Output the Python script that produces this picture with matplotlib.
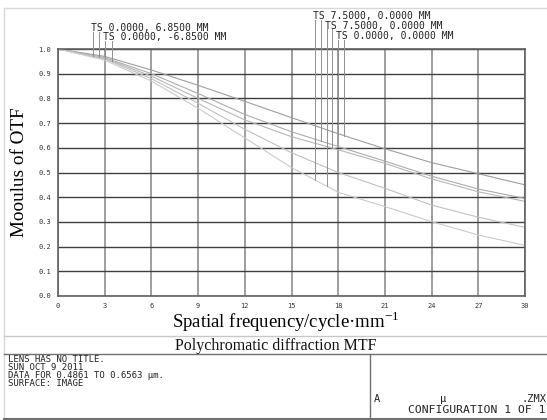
import numpy as np
import matplotlib
matplotlib.use("Agg")
import matplotlib.pyplot as plt
from matplotlib.lines import Line2D

plt.rcParams["mathtext.fontset"] = "custom"
plt.rcParams["mathtext.rm"] = "Liberation Serif"

# spatial frequency samples (cycles/mm)
freq = [0, 3, 6, 9, 12, 15, 18, 21, 24, 27, 30]

# MTF curves
mtf_axis = [1.0, 0.970, 0.915, 0.853, 0.788, 0.722, 0.657, 0.596, 0.540, 0.495, 0.450]
mtf_b = [1.0, 0.965, 0.900, 0.820, 0.735, 0.665, 0.605, 0.546, 0.485, 0.433, 0.395]
mtf_c = [1.0, 0.962, 0.890, 0.800, 0.713, 0.645, 0.592, 0.537, 0.474, 0.422, 0.383]
mtf_d = [1.0, 0.960, 0.880, 0.780, 0.675, 0.580, 0.500, 0.436, 0.368, 0.319, 0.278]
mtf_e = [1.0, 0.955, 0.870, 0.760, 0.640, 0.520, 0.420, 0.362, 0.301, 0.247, 0.205]

curves = [mtf_axis, mtf_b, mtf_c, mtf_d, mtf_e]
curve_colors = ["#9e9e9e", "#acacac", "#b6b6b6", "#c0c0c0", "#cacaca"]

# field labels: text, x position, y position (axes data), leader lines (x, curve index, top y)
labels = [
    ("TS 0.0000, 6.8500 MM", 2.15, 1.085, [(2.27, 3, 1.070), (2.65, 2, 1.070)]),
    ("TS 0.0000, -6.8500 MM", 2.90, 1.048, [(3.02, 3, 1.033), (3.45, 2, 1.033)]),
    ("TS 7.5000, 0.0000 MM", 16.38, 1.134, [(16.50, 4, 1.118), (16.87, 1, 1.118)]),
    ("TS 7.5000, 0.0000 MM", 17.12, 1.094, [(17.26, 4, 1.079), (17.60, 2, 1.079)]),
    ("TS 0.0000, 0.0000 MM", 17.85, 1.053, [(18.00, 0, 1.038), (18.37, 0, 1.038)]),
]

xticks = [0, 3, 6, 9, 12, 15, 18, 21, 24, 27, 30]
yticks = [0.0, 0.1, 0.2, 0.3, 0.4, 0.5, 0.6, 0.7, 0.8, 0.9, 1.0]

info_lines = ["LENS HAS NO TITLE.", "SUN OCT 9 2011",
              "DATA FOR 0.4861 TO 0.6563 \u00b5m.", "SURFACE: IMAGE"]

W, H = 547, 420
fig = plt.figure(figsize=(W / 100, H / 100), dpi=100)
ax = fig.add_axes([58 / W, 1 - 296 / H, (525 - 58) / W, (296 - 49) / H])

for xv in xticks:
    ax.axvline(xv, color="#8e8e8e", lw=1.2, zorder=1)
for yv in yticks:
    ax.axhline(yv, color="#3e3e3e", lw=1.0, zorder=1)

for vals, col in zip(curves, curve_colors):
    ax.plot(freq, vals, color=col, lw=0.8, zorder=2)

mono = "DejaVu Sans Mono"
for text, tx, ty, leaders in labels:
    ax.text(tx, ty, text, fontsize=7, family=mono, color="#222222",
            ha="left", va="center", clip_on=False)
    for lx, ci, top in leaders:
        yend = np.interp(lx, freq, curves[ci])
        ax.plot([lx, lx], [yend, top], color="#909090", lw=0.7,
                clip_on=False, zorder=3)

ax.set_xlim(0, 30)
ax.set_ylim(0, 1.0)
ax.set_xticks(xticks)
ax.set_xticklabels([str(v) for v in xticks], family=mono, fontsize=5)
ax.set_yticks(yticks)
ax.set_yticklabels(["%.1f" % v for v in yticks], family=mono, fontsize=5)
ax.tick_params(length=0, pad=5, colors="#333333")
for s in ax.spines.values():
    s.set_color("#606060")
    s.set_linewidth(1.2)

ax.set_ylabel("Mooulus of OTF", family="Liberation Serif", fontsize=13.8)
ax.yaxis.label.set_va("center")
ax.yaxis.set_label_coords(-(58 - 20) / 467, 0.5)
ax.set_xlabel("Spatial frequency/cycle\u00b7mm$^{\\mathregular{-1}}$",
              family="Liberation Serif", fontsize=13.5)
ax.xaxis.label.set_va("center")
ax.xaxis.set_label_coords(0.487, -(322 - 296) / 247)


def px(x, y):
    return x / W, 1 - y / H


def hline(y, x0, x1, color, lw=1.0):
    (a, b), (c, d) = px(x0, y), px(x1, y)
    fig.add_artist(Line2D([a, c], [b, d], transform=fig.transFigure, color=color, lw=lw))


def vline(x, y0, y1, color, lw=1.0):
    (a, b), (c, d) = px(x, y0), px(x, y1)
    fig.add_artist(Line2D([a, c], [b, d], transform=fig.transFigure, color=color, lw=lw))


# frame around the sheet
hline(8, 4, 547, "#d8d8d8")
vline(4, 8, 420, "#d8d8d8")
hline(336, 4, 547, "#c8c8c8")
hline(354, 4, 547, "#707070")
hline(419, 4, 547, "#707070", lw=1.5)
vline(370, 354, 420, "#707070")

fig.text(*px(276, 346), "Polychromatic diffraction MTF", family="Liberation Serif",
         fontsize=11.5, ha="center", va="center", color="#111111")

for i, line in enumerate(info_lines):
    fig.text(*px(8, 360 + 7.7 * i), line, family=mono, fontsize=6.5,
             ha="left", va="center", color="#222222")

fig.text(*px(374, 399), "A", family=mono, fontsize=7.5, ha="left", va="center", color="#222222")
fig.text(*px(440, 399), "\u00b5", family=mono, fontsize=7.5, ha="left", va="center", color="#222222")
fig.text(*px(546, 399), ".ZMX", family=mono, fontsize=7.5, ha="right", va="center", color="#222222")
fig.text(*px(546, 410), "CONFIGURATION 1 OF 1", family=mono, fontsize=8.2,
         ha="right", va="center", color="#222222")

fig.savefig("out.png", dpi=100)
